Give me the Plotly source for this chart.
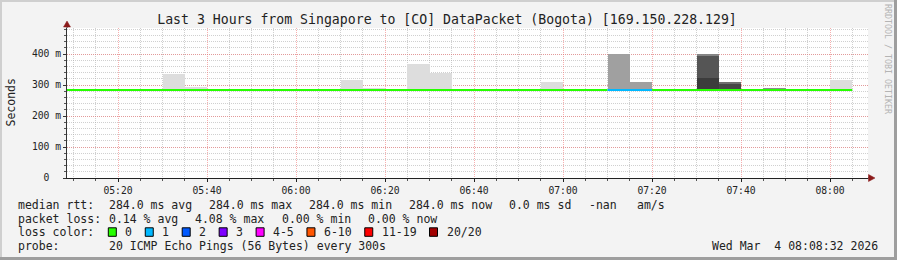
import plotly.graph_objects as go
import pandas as pd

# ---------------- data ----------------
DAY = "2026-03-04 "
bin_start = pd.date_range(DAY + "05:05", DAY + "08:00", freq="5min")  # 5-minute RRD steps
median_ms = [284.0, 284.0, 284.0, 284.0, 284.0, 284.0, 284.0, 284.0, 284.0, 284.0, 284.0, 284.0,
             284.0, 284.0, 284.0, 284.0, 284.0, 284.0, 284.0, 284.0, 284.0, 284.0, 284.0, 284.0,
             284.0, 284.0, 284.0, 284.0, 284.0, 284.0, 284.0, 284.0, 284.0, 284.0, 284.0, 284.0]
loss_pings = [0, 0, 0, 0, 0, 0, 0, 0, 0, 0, 0, 0,
              0, 0, 0, 0, 0, 0, 0, 0, 0, 0, 0, 0,
              0, 1, 1, 0, 0, 0, 0, 0, 0, 0, 0, 0]

# smoke bands (per 5-minute bin): start, low, high, shade
band_start = ["05:30", "05:35", "06:10", "06:15", "06:25", "06:30", "06:55", "07:10", "07:15",
              "07:30", "07:30", "07:30", "07:35", "07:35", "07:45", "08:00"]
band_lo = [283, 283, 283, 283, 283, 283, 283, 283, 283, 283, 322, 395, 283, 306, 283, 283]
band_hi = [334, 294, 317, 292, 369, 340, 310, 400, 310, 322, 395, 400, 306, 311, 291, 317]
band_color = ["#dddddd", "#dddddd", "#dddddd", "#dddddd", "#dddddd", "#dddddd", "#dddddd",
              "#a0a0a0", "#a0a0a0", "#3c3c3c", "#555555", "#858585", "#474747", "#707070",
              "#8c8c8c", "#dddddd"]

loss_labels = ["0", "1", "2", "3", "4-5", "6-10", "11-19", "20/20"]
loss_colors = ["#26ff00", "#00b8ff", "#0059ff", "#7e00ff", "#ff00ff", "#ff5500", "#ff0000", "#a10000"]

rtt_stats = [284.0, 284.0, 284.0, 284.0]
rtt_stat_names = ["avg", "max", "min", "now"]
rtt_sd = 0.0
loss_stats = [0.14, 4.08, 0.00, 0.00]
loss_stat_names = ["avg", "max", "min", "now"]

y_tickvals = [0, 100, 200, 300, 400]
y_ticktext = ["0\u00a0\u00a0", "100 m", "200 m", "300 m", "400 m"]

title = "Last 3 Hours from Singapore to [CO] DataPacket (Bogota) [169.150.228.129]"
probe_text = "20 ICMP Echo Pings (56 Bytes) every 300s"
stamp_text = "Wed Mar\u00a0\u00a04 08:08:32 2026"

# ---------------- geometry ----------------
W, H = 897, 260
L, R, T, B = 67, 29, 28, 82
PW, PH = W - L - R, H - T - B
FONT = "DejaVu Sans Mono"
STEP = pd.Timedelta(minutes=5)


def pxx(x):
    return (x - L) / PW


def pxy(y):
    return (H - B - y) / PH


fig = go.Figure()

# smoke
for s, lo, hi, c in zip(band_start, band_lo, band_hi, band_color):
    fig.add_trace(go.Bar(
        x=[pd.Timestamp(DAY + s)], y=[hi - lo], base=[lo], width=[STEP.total_seconds() * 1000],
        offset=0, marker=dict(color=c, line=dict(width=0)), showlegend=False, hoverinfo="skip"))

# median line coloured by loss
segs = []
for t, m, lp in zip(bin_start, median_ms, loss_pings):
    c = loss_colors[min(lp, len(loss_colors) - 1)]
    if segs and segs[-1]["c"] == c:
        segs[-1]["x"].append(t + STEP)
        segs[-1]["y"].append(m)
    else:
        segs.append({"c": c, "x": [t, t + STEP], "y": [m, m]})
for sg in segs:
    fig.add_trace(go.Scatter(x=sg["x"], y=sg["y"], mode="lines", line=dict(color=sg["c"], width=2, shape="hv"),
                             showlegend=False, hoverinfo="skip"))

MAJ = "rgba(240,110,110,0.55)"
MIN = "rgba(170,170,170,0.55)"
DASH = "1px,1px"

fig.update_layout(
    width=W, height=H, margin=dict(l=L, r=R, t=T, b=B, pad=0),
    paper_bgcolor="#f3f3f3", plot_bgcolor="#ffffff",
    barmode="overlay", bargap=0,
    font=dict(family=FONT, color="#222222", size=10),
    title=dict(text=title, x=447 / W, xref="container", xanchor="center",
               y=1 - 19 / H, yref="container", yanchor="middle",
               font=dict(family=FONT, size=13.2, color="#222222")),
    xaxis=dict(type="date", range=[DAY + "05:08:32", DAY + "08:08:32"],
               tickformat="%H:%M", tick0=DAY + "05:00", dtick=20 * 60 * 1000,
               showgrid=True, gridcolor=MAJ, griddash=DASH, gridwidth=1,
               showline=True, linecolor="#222222", linewidth=1,
               ticks="outside", ticklen=3, tickcolor="#222222",
               tickfont=dict(family=FONT, size=9.7, color="#222222"),
               minor=dict(dtick=5 * 60 * 1000, tick0=DAY + "05:00", showgrid=True, gridcolor=MIN,
                          griddash=DASH, ticks="outside", ticklen=2, tickcolor="#555555"),
               zeroline=False, fixedrange=True),
    yaxis=dict(range=[0, 484], tickvals=y_tickvals, ticktext=y_ticktext,
               showgrid=True, gridcolor=MAJ, griddash=DASH, gridwidth=1,
               showline=True, linecolor="#333333", linewidth=1,
               ticks="outside", ticklen=3, tickcolor="#333333",
               tickfont=dict(family=FONT, size=9.7, color="#222222"),
               minor=dict(dtick=20, showgrid=True, gridcolor=MIN, griddash=DASH,
                          ticks="outside", ticklen=2, tickcolor="#555555"),
               zeroline=False, fixedrange=True),
)

shapes = []
# frame
shapes.append(dict(type="rect", xref="paper", yref="paper", x0=pxx(0), x1=pxx(W), y0=pxy(H), y1=pxy(0),
                   line=dict(width=0), fillcolor="rgba(0,0,0,0)"))
shapes.append(dict(type="line", xref="paper", yref="paper", x0=pxx(0), x1=pxx(W), y0=pxy(1), y1=pxy(1),
                   line=dict(color="#cfcfcf", width=2)))
shapes.append(dict(type="line", xref="paper", yref="paper", x0=pxx(1), x1=pxx(1), y0=pxy(0), y1=pxy(H),
                   line=dict(color="#cfcfcf", width=2)))
shapes.append(dict(type="line", xref="paper", yref="paper", x0=pxx(0), x1=pxx(W), y0=pxy(H - 1.5), y1=pxy(H - 1.5),
                   line=dict(color="#9e9e9e", width=3)))
shapes.append(dict(type="line", xref="paper", yref="paper", x0=pxx(W - 1.5), x1=pxx(W - 1.5), y0=pxy(0), y1=pxy(H),
                   line=dict(color="#9e9e9e", width=3)))
# axis extensions and arrows
shapes.append(dict(type="line", xref="paper", yref="paper", x0=pxx(L), x1=pxx(L), y0=pxy(T), y1=pxy(25),
                   line=dict(color="#333333", width=1)))
shapes.append(dict(type="line", xref="paper", yref="paper", x0=pxx(W - R), x1=pxx(870), y0=pxy(H - B), y1=pxy(H - B),
                   line=dict(color="#222222", width=1)))
ARROW = "#8b1a1a"
shapes.append(dict(type="path", xref="paper", yref="paper",
                   path=f"M {pxx(L-3.5)},{pxy(27)} L {pxx(L+3.5)},{pxy(27)} L {pxx(L)},{pxy(21)} Z",
                   fillcolor=ARROW, line=dict(color=ARROW, width=0.5)))
shapes.append(dict(type="path", xref="paper", yref="paper",
                   path=f"M {pxx(868.5)},{pxy(H-B-3.5)} L {pxx(868.5)},{pxy(H-B+3.5)} L {pxx(875)},{pxy(H-B)} Z",
                   fillcolor=ARROW, line=dict(color=ARROW, width=0.5)))

anns = []


def txt(text, x, y, xanchor="left", size=11.5, color="#222222", angle=0):
    anns.append(dict(text=text, x=pxx(x), y=pxy(y), xref="paper", yref="paper", showarrow=False,
                     xanchor=xanchor, yanchor="middle", textangle=angle,
                     font=dict(family=FONT, size=size, color=color)))


txt("Seconds", 10, 102.5, xanchor="center", angle=-90)
txt("RRDTOOL / TOBI OETIKER", 888, 59, xanchor="center", size=8.3, color="#b4b4b4", angle=90)

ROW = [204.5, 218.5, 232.3, 246.5]
txt("median rtt:", 16, ROW[0])
for xpos, v, nm in zip([107.3, 207.3, 307.3, 407.3], rtt_stats, rtt_stat_names):
    txt(f"{v:.1f} ms {nm}", xpos, ROW[0])
txt(f"{rtt_sd:.1f} ms sd", 507.3, ROW[0])
txt("-nan", 586.7, ROW[0])
txt("am/s", 635, ROW[0])

txt("packet loss:", 16, ROW[1])
for xpos, v, nm in zip([107.3, 193.4, 279.5, 365.6], loss_stats, loss_stat_names):
    txt(f"{v:.2f} % {nm}", xpos, ROW[1])

txt("loss color:", 16, ROW[2])
bx = 108.3
CW = 6.95
for lab, col in zip(loss_labels, loss_colors):
    shapes.append(dict(type="rect", xref="paper", yref="paper", x0=pxx(bx), x1=pxx(bx + 8),
                       y0=pxy(ROW[2] + 4), y1=pxy(ROW[2] - 4.5), fillcolor=col,
                       line=dict(color="#000000", width=1)))
    txt(lab, bx + 15, ROW[2])
    bx = bx + 15 + len(lab) * CW + 15

txt("probe:", 16, ROW[3])
txt(probe_text, 107.3, ROW[3])
txt(stamp_text, 880, ROW[3], xanchor="right")

fig.update_layout(shapes=shapes, annotations=anns)
fig.write_html("out.html")
